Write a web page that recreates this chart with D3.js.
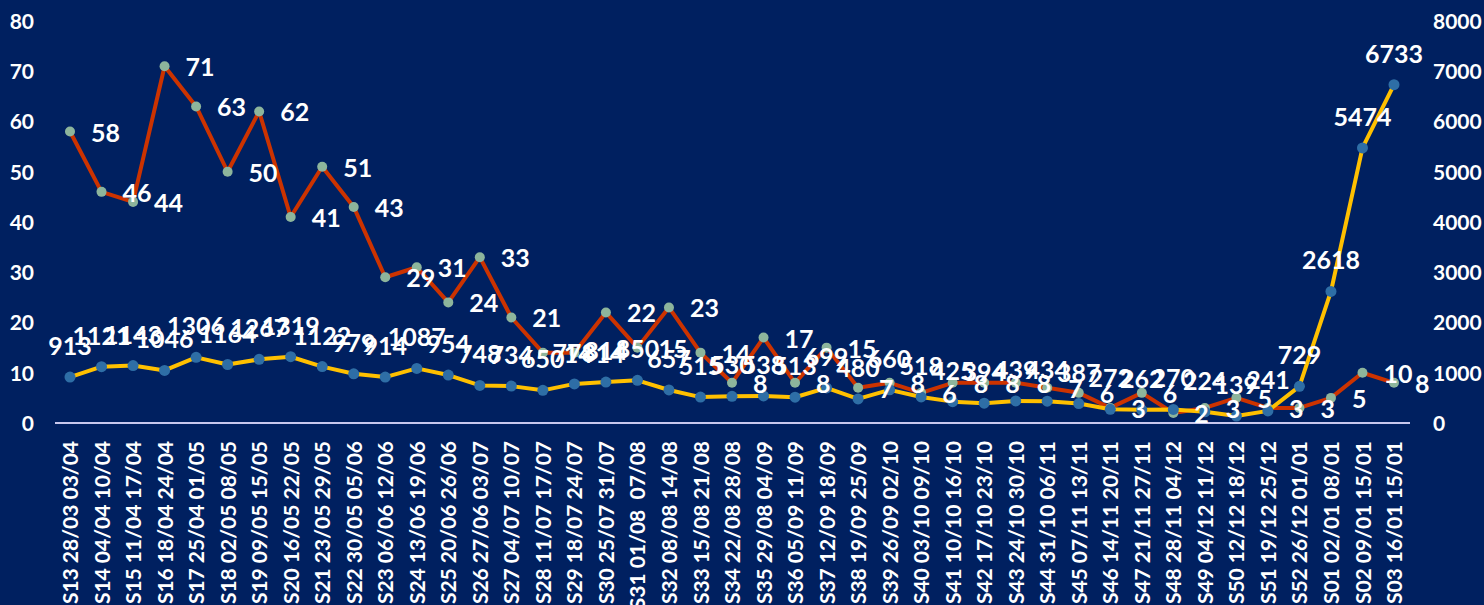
<!DOCTYPE html>
<html>
<head>
<meta charset="utf-8">
<script src="https://cdn.jsdelivr.net/npm/d3@7/dist/d3.min.js"></script>
<style>
  html, body { margin: 0; padding: 0; background: #002060; overflow: hidden; }
  svg { display: block; }
  text { font-family: Lato, "Open Sans", sans-serif; font-weight: 700; fill: #ffffff; }
</style>
</head>
<body>
<svg id="chart" width="1484" height="605"></svg>
<script>
const categories = [
  "S13 28/03 03/04","S14 04/04 10/04","S15 11/04 17/04","S16 18/04 24/04","S17 25/04 01/05",
  "S18 02/05 08/05","S19 09/05 15/05","S20 16/05 22/05","S21 23/05 29/05","S22 30/05 05/06",
  "S23 06/06 12/06","S24 13/06 19/06","S25 20/06 26/06","S26 27/06 03/07","S27 04/07 10/07",
  "S28 11/07 17/07","S29 18/07 24/07","S30 25/07 31/07","S31 01/08  07/08","S32 08/08 14/08",
  "S33 15/08 21/08","S34 22/08 28/08","S35 29/08 04/09","S36 05/09 11/09","S37 12/09 18/09",
  "S38 19/09 25/09","S39 26/09 02/10","S40 03/10 09/10","S41 10/10 16/10","S42 17/10 23/10",
  "S43 24/10 30/10","S44 31/10 06/11","S45 07/11 13/11","S46 14/11 20/11","S47 21/11 27/11",
  "S48 28/11 04/12","S49 04/12 11/12","S50 12/12 18/12","S51 19/12 25/12","S52 26/12 01/01",
  "S01 02/01 08/01","S02 09/01 15/01","S03 16/01 15/01"
];
// left axis series (red line)
const leftValues = [58,46,44,71,63,50,62,41,51,43,29,31,24,33,21,14,14,22,15,23,14,8,17,8,15,7,8,6,8,8,8,7,6,3,6,2,3,5,3,3,5,10,8];
// right axis series (yellow line)
const rightValues = [913,1121,1143,1046,1306,1164,1267,1319,1122,979,914,1087,954,748,734,650,778,814,850,657,515,530,538,513,699,480,660,518,425,394,439,434,387,272,262,270,224,139,241,729,2618,5474,6733];
const leftTicks = [0,10,20,30,40,50,60,70,80];
const rightTicks = [0,1000,2000,3000,4000,5000,6000,7000,8000];

const svg = d3.select("#chart");
svg.append("rect").attr("width",1484).attr("height",605).attr("fill","#002060");

const x = d3.scalePoint().domain(categories).range([70, 1394]);
const yL = d3.scaleLinear().domain([0, 80]).range([423, 21]);
const yR = d3.scaleLinear().domain([0, 8000]).range([423, 21]);

// left axis
const axL = svg.append("g").attr("transform","translate(34,0)")
  .call(d3.axisLeft(yL).tickValues(leftTicks).tickFormat(d3.format("d")).tickSize(0).tickPadding(0));
axL.select(".domain").remove();
axL.selectAll("text").style("font-size","21px").attr("fill","#fff").attr("dy","0.35em");

// right axis
const axR = svg.append("g").attr("transform","translate(1433,0)")
  .call(d3.axisRight(yR).tickValues(rightTicks).tickFormat(d3.format("d")).tickSize(0).tickPadding(0));
axR.select(".domain").remove();
axR.selectAll("text").style("font-size","21px").attr("fill","#fff").attr("dy","0.35em");

// baseline
svg.append("line").attr("x1",55).attr("x2",1410).attr("y1",yL(0)).attr("y2",yL(0))
  .attr("stroke","#c8c8ee").attr("stroke-width",2);

// x labels
const xAx = svg.append("g").attr("transform",`translate(0,${yL(0)})`)
  .call(d3.axisBottom(x).tickSize(0).tickPadding(0));
xAx.select(".domain").remove();
xAx.selectAll("text")
  .style("font-size","21px")
  .style("white-space","pre")
  .attr("fill","#fff")
  .attr("text-anchor","end")
  .attr("transform", "translate(0,18) rotate(-90)")
  .attr("x",0).attr("y",0).attr("dy","0.36em");

// lines
const lineL = d3.line().x((d,i)=>x(categories[i])).y(d=>yL(d));
const lineR = d3.line().x((d,i)=>x(categories[i])).y(d=>yR(d));

svg.append("path").datum(leftValues).attr("d",lineL)
  .attr("fill","none").attr("stroke","#cc3300").attr("stroke-width",4).attr("stroke-linejoin","round");
svg.append("g").selectAll("circle").data(leftValues).join("circle")
  .attr("cx",(d,i)=>x(categories[i])).attr("cy",d=>yL(d)).attr("r",5)
  .attr("fill","#8db59c");

svg.append("path").datum(rightValues).attr("d",lineR)
  .attr("fill","none").attr("stroke","#ffc000").attr("stroke-width",4).attr("stroke-linejoin","round");
svg.append("g").selectAll("circle").data(rightValues).join("circle")
  .attr("cx",(d,i)=>x(categories[i])).attr("cy",d=>yR(d)).attr("r",5.5)
  .attr("fill","#2e6ea6");

// data labels
svg.append("g").selectAll("text").data(rightValues).join("text")
  .attr("x",(d,i)=>x(categories[i])).attr("y",d=>yR(d)-31)
  .attr("dy","0.36em").attr("text-anchor","middle")
  .style("font-size","25px").text(d=>d);

svg.append("g").selectAll("text").data(leftValues).join("text")
  .attr("x",(d,i)=>x(categories[i])+21).attr("y",d=>yL(d)+1)
  .attr("dy","0.36em").attr("text-anchor","start")
  .style("font-size","25px").text(d=>d);
</script>
</body>
</html>
